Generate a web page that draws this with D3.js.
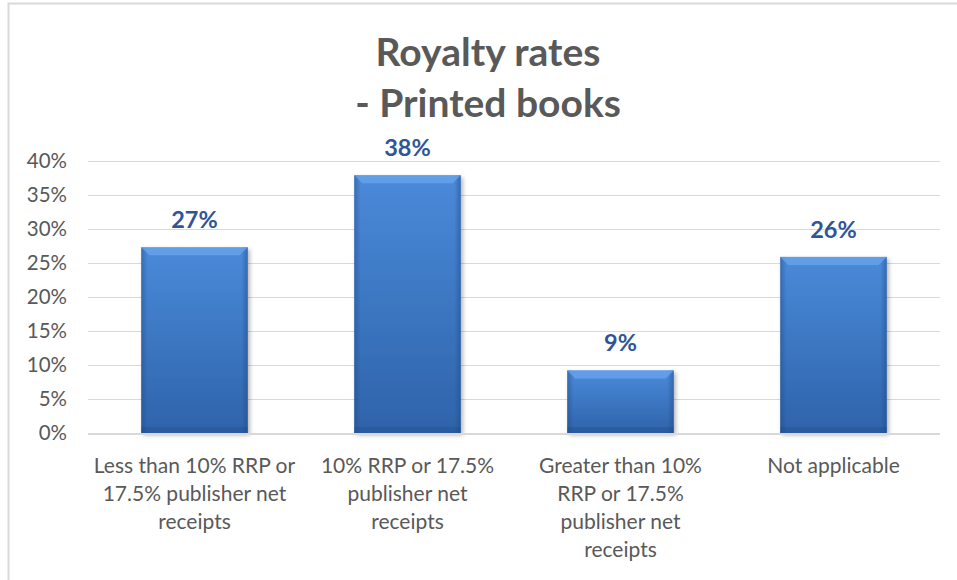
<!DOCTYPE html>
<html>
<head>
<meta charset="utf-8">
<script src="https://cdn.jsdelivr.net/npm/d3@7"></script>
<style>
  body { margin: 0; background: #fff; }
  text { font-family: Lato, "Noto Sans", sans-serif; }
</style>
</head>
<body>
<svg width="957" height="580"></svg>
<script>
var categories = [
    ["Less than 10% RRP or", "17.5% publisher net", "receipts"],
    ["10% RRP or 17.5%", "publisher net", "receipts"],
    ["Greater than 10%", "RRP or 17.5%", "publisher net", "receipts"],
    ["Not applicable"]
];
var values = [0.273, 0.379, 0.092, 0.259];
var valueLabels = ["27%", "38%", "9%", "26%"];
var yTicks = [0, 0.05, 0.1, 0.15, 0.2, 0.25, 0.3, 0.35, 0.4];

var svg = d3.select("svg"),
    width = +svg.attr("width"),
    height = +svg.attr("height");

var margin = {left: 88, right: 17, top: 161, bottom: 147};

// chart border
svg.append("rect")
    .attr("x", 8.5).attr("y", 3.5)
    .attr("width", 980).attr("height", 600)
    .attr("fill", "none")
    .attr("stroke", "#d9d9d9")
    .attr("stroke-width", 2);

var x = d3.scaleBand()
    .domain(d3.range(categories.length))
    .range([margin.left, width - margin.right])
    .paddingInner(0.5)
    .paddingOuter(0.25);

var y = d3.scaleLinear()
    .domain([0, 0.4])
    .range([height - margin.bottom, margin.top]);

var defs = svg.append("defs");
var grad = defs.append("linearGradient")
    .attr("id", "barGrad")
    .attr("x1", 0).attr("y1", 0).attr("x2", 0).attr("y2", 1);
grad.append("stop").attr("offset", "0%").attr("stop-color", "#4a8ad9");
grad.append("stop").attr("offset", "100%").attr("stop-color", "#2e63aa");

var side = defs.append("linearGradient")
    .attr("id", "sideGrad")
    .attr("x1", 0).attr("y1", 0).attr("x2", 1).attr("y2", 0);
side.append("stop").attr("offset", "0%").attr("stop-color", "#1f4a85").attr("stop-opacity", 0.45);
side.append("stop").attr("offset", "6%").attr("stop-color", "#1f4a85").attr("stop-opacity", 0);
side.append("stop").attr("offset", "94%").attr("stop-color", "#1f4a85").attr("stop-opacity", 0);
side.append("stop").attr("offset", "100%").attr("stop-color", "#1f4a85").attr("stop-opacity", 0.5);

var shadow = defs.append("filter").attr("id", "shadow")
    .attr("x", "-10%").attr("y", "-10%").attr("width", "130%").attr("height", "130%");
shadow.append("feDropShadow")
    .attr("dx", 2).attr("dy", 2).attr("stdDeviation", 2)
    .attr("flood-color", "#000").attr("flood-opacity", 0.3);

// gridlines
svg.append("g")
    .selectAll("line")
    .data(yTicks.slice(1))
    .enter().append("line")
    .attr("x1", margin.left).attr("x2", width - margin.right)
    .attr("y1", function (d) { return Math.round(y(d)) + 0.5; })
    .attr("y2", function (d) { return Math.round(y(d)) + 0.5; })
    .attr("stroke", "#d9d9d9");

// y axis labels
svg.append("g")
    .selectAll("text")
    .data(yTicks)
    .enter().append("text")
    .attr("x", 67)
    .attr("y", function (d) { return y(d); })
    .attr("dy", "0.36em")
    .attr("text-anchor", "end")
    .attr("font-size", 20.5)
    .attr("fill", "#595959")
    .text(function (d) { return d3.format(".0%")(d); });

// bars
var bars = svg.append("g")
    .selectAll("g")
    .data(values)
    .enter().append("g");

bars.append("rect")
    .attr("x", function (d, i) { return x(i); })
    .attr("y", function (d) { return y(d); })
    .attr("width", x.bandwidth())
    .attr("height", function (d) { return y(0) - y(d); })
    .attr("fill", "url(#barGrad)")
    .attr("filter", "url(#shadow)");

bars.append("rect")
    .attr("x", function (d, i) { return x(i); })
    .attr("y", function (d) { return y(d); })
    .attr("width", x.bandwidth())
    .attr("height", function (d) { return y(0) - y(d); })
    .attr("fill", "url(#sideGrad)");

// top bevel
bars.append("path")
    .attr("d", function (d, i) {
        var x0 = x(i), x1 = x(i) + x.bandwidth(), t = y(d), b = 8;
        return "M" + x0 + "," + t + "L" + x1 + "," + t +
            "L" + (x1 - b) + "," + (t + b) + "L" + (x0 + b) + "," + (t + b) + "Z";
    })
    .attr("fill", "#6aa6ec")
    .attr("opacity", 0.75);

// bottom shading
bars.append("rect")
    .attr("x", function (d, i) { return x(i); })
    .attr("y", y(0) - 6)
    .attr("width", x.bandwidth())
    .attr("height", 6)
    .attr("fill", "#1f4a85")
    .attr("opacity", 0.3);

// baseline
svg.append("line")
    .attr("x1", margin.left).attr("x2", width - margin.right)
    .attr("y1", y(0) + 1).attr("y2", y(0) + 1)
    .attr("stroke", "#d9d9d9")
    .attr("stroke-width", 2);

// value labels
svg.append("g")
    .selectAll("text")
    .data(values)
    .enter().append("text")
    .attr("x", function (d, i) { return x(i) + x.bandwidth() / 2; })
    .attr("y", function (d) { return y(d) - 19; })
    .attr("text-anchor", "middle")
    .attr("font-size", 23.5)
    .attr("font-weight", "bold")
    .attr("fill", "#2f5597")
    .text(function (d, i) { return valueLabels[i]; });

// category labels
var cat = svg.append("g")
    .selectAll("text")
    .data(categories)
    .enter().append("text")
    .attr("x", function (d, i) { return x(i) + x.bandwidth() / 2; })
    .attr("y", 473)
    .attr("text-anchor", "middle")
    .attr("font-size", 21)
    .attr("fill", "#595959");

cat.selectAll("tspan")
    .data(function (d) { return d; })
    .enter().append("tspan")
    .attr("x", function () { return d3.select(this.parentNode).attr("x"); })
    .attr("dy", function (d, i) { return i === 0 ? 0 : 28; })
    .text(function (d) { return d; });

// title
svg.append("text")
    .attr("x", 488).attr("y", 66)
    .attr("text-anchor", "middle")
    .attr("font-size", 39)
    .attr("font-weight", "bold")
    .attr("fill", "#595959")
    .text("Royalty rates");

svg.append("text")
    .attr("x", 488).attr("y", 117)
    .attr("text-anchor", "middle")
    .attr("font-size", 39)
    .attr("font-weight", "bold")
    .attr("fill", "#595959")
    .text("- Printed books");
</script>
</body>
</html>
